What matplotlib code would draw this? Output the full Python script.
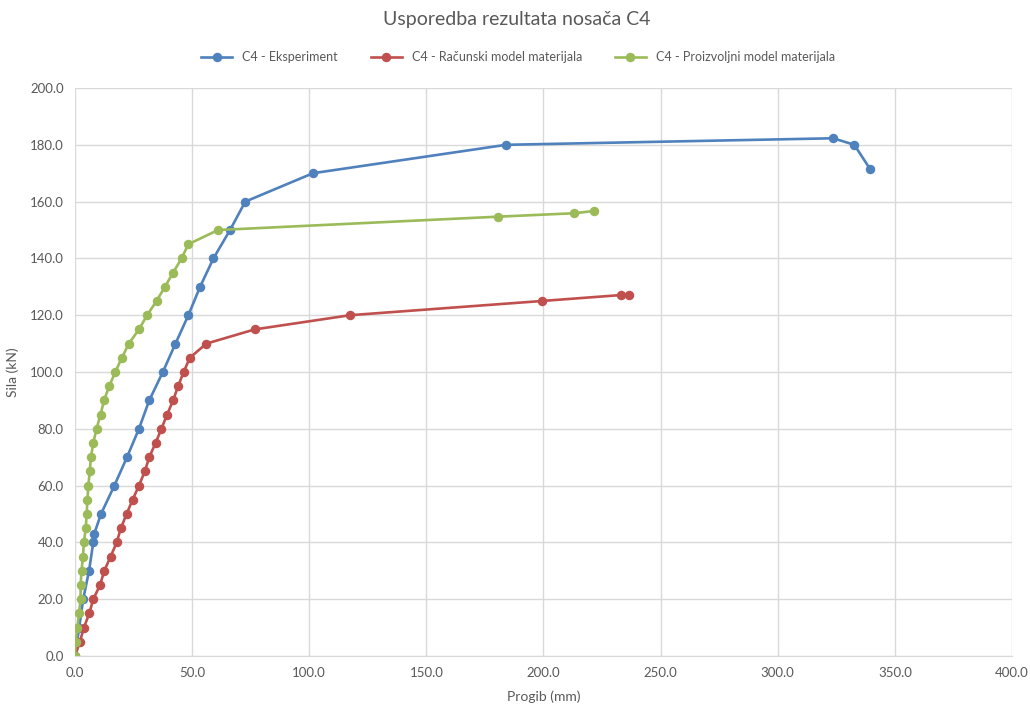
import numpy as np
import matplotlib
matplotlib.use("Agg")
import matplotlib.pyplot as plt

plt.rcParams['font.family'] = ['Lato', 'DejaVu Sans']

# C4 - Eksperiment
exp_x = [0.0, 1.8, 3.5, 6.0, 7.8, 8.2, 11.1, 16.8, 22.2, 27.3, 31.7, 37.5, 42.9,
         48.4, 53.4, 59.1, 66.2, 72.7, 101.6, 184.0, 323.7, 332.7, 339.4]
exp_y = [0, 10, 20, 30, 40, 43, 50, 60, 70, 80, 90, 100, 110,
         120, 130, 140, 150, 160, 170, 180, 182.3, 180, 171.5]

# C4 - Računski model materijala
rac_x = [0.0, 2.1, 3.8, 6.1, 7.8, 10.7, 12.5, 15.2, 17.8, 19.6, 22.0, 24.6, 27.3,
         29.8, 31.7, 34.4, 36.9, 39.3, 41.9, 44.0, 46.4, 49.0, 56.1, 76.7,
         117.4, 199.2, 233.1, 236.6]
rac_y = [0, 5, 10, 15, 20, 25, 30, 35, 40, 45, 50, 55, 60,
         65, 70, 75, 80, 85, 90, 95, 100, 105, 110, 115,
         120, 125, 127.1, 127.1]

# C4 - Proizvoljni model materijala
pro_x = [0.0, 0.3, 1.0, 1.7, 2.4, 2.4, 2.8, 3.4, 3.8, 4.6, 5.0, 5.3, 5.7,
         6.3, 6.8, 7.8, 9.2, 10.9, 12.4, 14.6, 17.2, 20.0, 23.0, 27.3,
         30.8, 34.8, 38.4, 41.9, 45.5, 48.4, 61.1, 180.7, 213.0, 221.6]
pro_y = [0, 5, 10, 15, 20, 25, 30, 35, 40, 45, 50, 55, 60,
         65, 70, 75, 80, 85, 90, 95, 100, 105, 110, 115,
         120, 125, 130, 135, 140, 145, 150, 154.7, 155.9, 156.7]

fig = plt.figure(figsize=(10.3, 7.08), dpi=100)
ax = fig.add_axes([0.0728, 0.0734, 0.9097, 0.8023])

ax.plot(exp_x, exp_y, color="#4F81BD", lw=1.9, marker="o", ms=5.8, label="C4 - Eksperiment")
ax.plot(rac_x, rac_y, color="#C0504D", lw=1.9, marker="o", ms=5.8, label="C4 - Računski model materijala")
ax.plot(pro_x, pro_y, color="#9BBB59", lw=1.9, marker="o", ms=5.8, label="C4 - Proizvoljni model materijala")

ax.set_xlim(0, 400)
ax.set_ylim(0, 200)
ax.set_xticks(np.arange(0, 401, 50))
ax.set_yticks(np.arange(0, 201, 20))
ax.xaxis.set_major_formatter(matplotlib.ticker.FormatStrFormatter("%.1f"))
ax.yaxis.set_major_formatter(matplotlib.ticker.FormatStrFormatter("%.1f"))
ax.grid(True, color="#D9D9D9", lw=1)
ax.set_axisbelow(True)
for s in ["top", "right", "left"]:
    ax.spines[s].set_visible(False)
ax.spines["bottom"].set_color("#D9D9D9")
ax.tick_params(length=0, labelsize=9.5, labelcolor="#595959", pad=8)

ax.set_xlabel("Progib (mm)", fontsize=10, color="#595959", labelpad=8)
ax.set_ylabel("Sila (kN)", fontsize=10, color="#595959", labelpad=8)

fig.text(0.502, 0.985, "Usporedba rezultata nosača C4", ha="center", va="top",
         fontsize=14, color="#595959")
fig.legend(loc="center", bbox_to_anchor=(0.503, 0.919), ncol=3, frameon=False,
           fontsize=9, labelcolor="#595959", handlelength=2.5, columnspacing=2.6)

fig.savefig("out.png", dpi=100)
